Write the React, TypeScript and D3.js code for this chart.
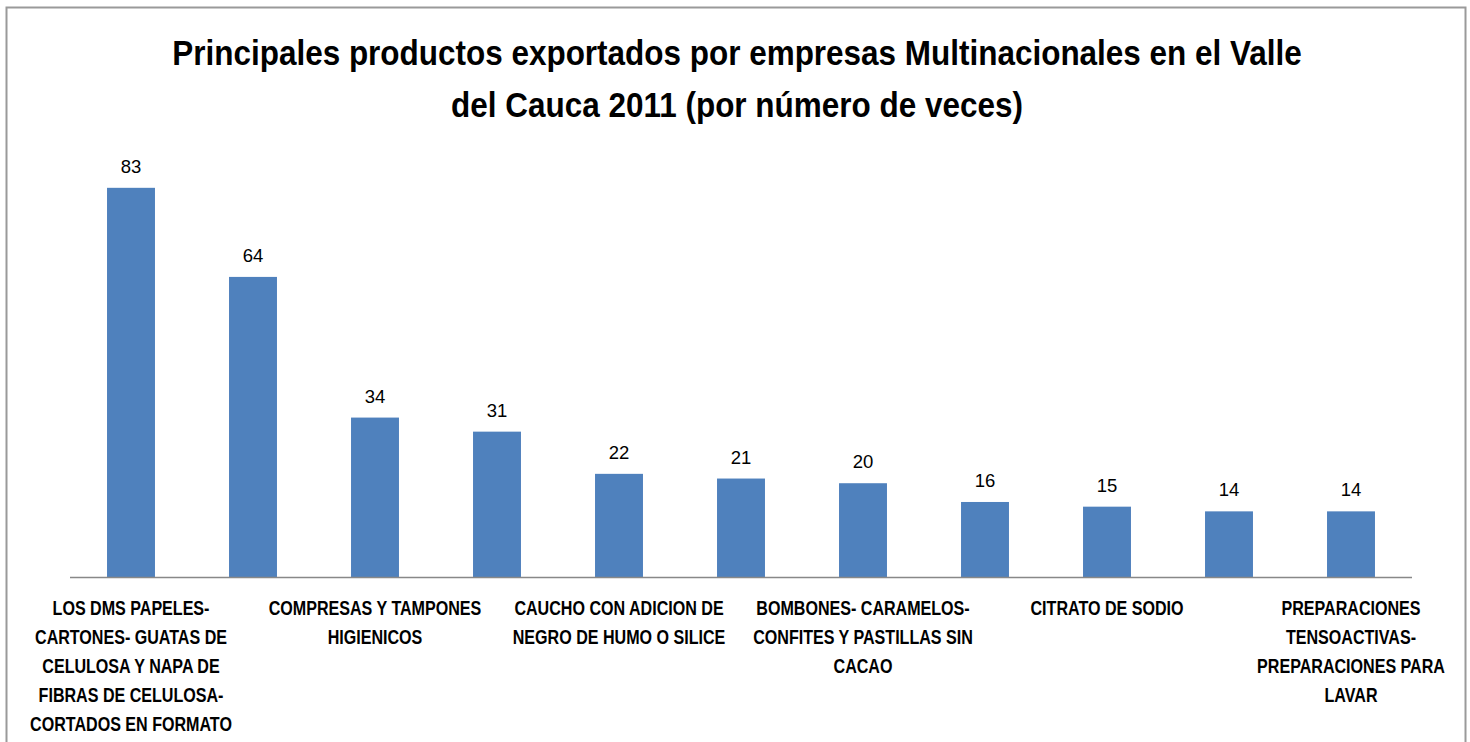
import React, { useRef, useEffect } from 'react';
import * as d3 from 'd3';

// etiquetas de categoria ("" = Excel no la mostró por falta de espacio)
const categories: string[] = [
  'LOS DMS PAPELES-\nCARTONES- GUATAS DE\nCELULOSA Y NAPA DE\nFIBRAS DE CELULOSA-\nCORTADOS EN FORMATO',
  '',
  'COMPRESAS Y TAMPONES\nHIGIENICOS',
  '',
  'CAUCHO CON ADICION DE\nNEGRO DE HUMO O SILICE',
  '',
  'BOMBONES- CARAMELOS-\nCONFITES Y PASTILLAS SIN\nCACAO',
  '',
  'CITRATO DE SODIO',
  '',
  'PREPARACIONES\nTENSOACTIVAS-\nPREPARACIONES PARA\nLAVAR',
];
const values: number[] = [83, 64, 34, 31, 22, 21, 20, 16, 15, 14, 14];
const titleLines: string[] = [
  'Principales productos exportados por empresas Multinacionales en el Valle',
  'del Cauca 2011 (por número de veces)',
];

const W = 1470;
const H = 742;
const FONT = "'Liberation Sans', Arial, sans-serif";

const App = () => {
  const svgRef = useRef<SVGSVGElement>(null);

  useEffect(() => {
    const svg = d3.select(svgRef.current);
    svg.selectAll('*').remove();

    const x = d3.scaleBand<number>()
      .domain(values.map((_, i) => i))
      .range([70, 1412])
      .paddingInner(0.607)
      .paddingOuter(0.3035);
    const y = d3.scaleLinear().domain([0, 90]).range([577, 155]);

    // marco del grafico
    svg.append('rect')
      .attr('x', 6.5).attr('y', 7.5)
      .attr('width', 1459).attr('height', 780)
      .attr('fill', '#fff')
      .attr('stroke', '#9a9a9a')
      .attr('stroke-width', 2);

    // titulo, comprimido para parecerse a Calibri
    const title = svg.append('g').attr('transform', 'translate(737,0)');
    const tLines = title.selectAll('text')
      .data(titleLines)
      .enter().append('text')
      .attr('x', 0)
      .attr('y', (d, i) => 65 + i * 52)
      .attr('text-anchor', 'middle')
      .style('font-family', FONT)
      .style('font-size', '36px')
      .style('font-weight', 'bold')
      .attr('fill', '#000')
      .text(d => d);
    const tw = (tLines.nodes()[0] as SVGTextElement).getComputedTextLength();
    title.attr('transform', `translate(737,0) scale(${1130 / tw},1)`);

    // barras
    svg.selectAll('.bar')
      .data(values)
      .enter().append('rect')
      .attr('class', 'bar')
      .attr('x', (d, i) => x(i)!)
      .attr('y', d => y(d))
      .attr('width', x.bandwidth())
      .attr('height', d => y(0) - y(d))
      .attr('fill', '#4f81bd');

    // eje horizontal
    svg.append('line')
      .attr('x1', 70).attr('x2', 1412)
      .attr('y1', y(0) + 0.5).attr('y2', y(0) + 0.5)
      .attr('stroke', '#888')
      .attr('stroke-width', 1.5);

    // valores encima de las barras
    svg.selectAll('.val')
      .data(values)
      .enter().append('text')
      .attr('class', 'val')
      .attr('x', (d, i) => x(i)! + x.bandwidth() / 2)
      .attr('y', d => y(d) - 15)
      .attr('text-anchor', 'middle')
      .style('font-family', FONT)
      .style('font-size', '18.5px')
      .attr('fill', '#000')
      .text(d => d);

    // etiquetas de categoria
    const labels = svg.selectAll('.cat')
      .data(categories)
      .enter().append('g')
      .attr('class', 'cat');
    labels.each(function (d, i) {
      const g = d3.select(this);
      d.split('\n').filter(s => s).forEach((line, j) => {
        g.append('text')
          .attr('x', 0)
          .attr('y', j * 29)
          .attr('text-anchor', 'middle')
          .style('font-family', FONT)
          .style('font-size', '21px')
          .style('font-weight', 'bold')
          .attr('fill', '#000')
          .text(line);
      });
    });
    const refLine = labels.select('text').node() as SVGTextElement;
    const sx = 157 / refLine.getComputedTextLength();
    labels.attr('transform', (d, i) =>
      `translate(${x(i)! + x.bandwidth() / 2},615) scale(${sx},1)`);
  }, []);

  return (
    <svg
      ref={svgRef}
      width={W}
      height={H}
      style={{ position: 'absolute', left: 0, top: 0, background: '#fff' }}
    />
  );
};

export default App;
